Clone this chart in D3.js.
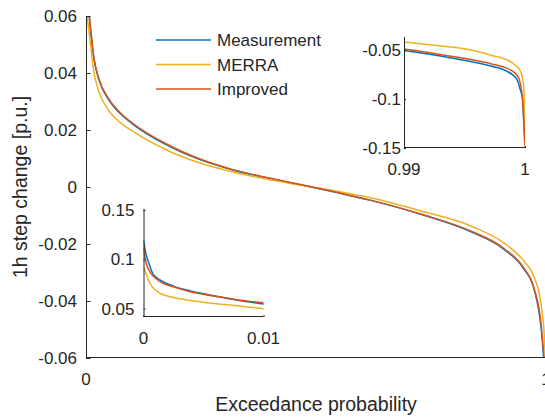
<!DOCTYPE html>
<html>
<head>
<meta charset="utf-8">
<script src="https://cdn.jsdelivr.net/npm/d3@7"></script>
<style>
  html, body { margin: 0; padding: 0; background: #fff; }
  svg { display: block; font-family: "Liberation Sans", Arial, Helvetica, sans-serif; }
</style>
</head>
<body>
<svg id="chart" width="545" height="417"></svg>
<script>
// Exceedance probability grid (denser at both tails)
const prob = [0, 0.0002, 0.0005, 0.0008, 0.0014, 0.0025, 0.0039, 0.0053, 0.0067, 0.0081, 0.01,
  0.017, 0.028, 0.05, 0.076, 0.103, 0.176, 0.248, 0.321, 0.394, 0.466, 0.54, 0.619, 0.728,
  0.837, 0.908, 0.952, 0.974, 0.99, 0.9925, 0.9952, 0.9974, 0.9984, 0.9993, 0.9996, 0.9998, 0.9999, 1];

// 1h step change [p.u.] for each series
const measurement = [0.1195, 0.106, 0.0942, 0.085, 0.0789, 0.0728, 0.068, 0.0644, 0.061, 0.0579, 0.0546,
  0.0452, 0.0377, 0.0305, 0.0255, 0.0219, 0.0147, 0.0096, 0.0059, 0.0032, 0.0008, -0.0018, -0.0047, -0.0096,
  -0.0157, -0.0218, -0.0288, -0.0358, -0.0505, -0.055, -0.061, -0.067, -0.071, -0.0795, -0.09, -0.1005, -0.125, -0.15];
const merra = [0.0924, 0.086, 0.0765, 0.071, 0.0655, 0.0612, 0.0582, 0.056, 0.0541, 0.0525, 0.0498,
  0.0405, 0.0335, 0.0267, 0.0224, 0.0194, 0.0129, 0.0084, 0.0052, 0.0027, 0.0007, -0.0013, -0.0038, -0.0084,
  -0.0137, -0.0196, -0.026, -0.0315, -0.0418, -0.0452, -0.0493, -0.056, -0.0595, -0.0665, -0.071, -0.079, -0.088, -0.15];
const improved = [0.112, 0.097, 0.088, 0.083, 0.0772, 0.0721, 0.067, 0.0637, 0.0613, 0.0586, 0.0559,
  0.0455, 0.038, 0.0308, 0.0258, 0.0222, 0.015, 0.0098, 0.006, 0.0033, 0.0009, -0.0017, -0.0046, -0.0095,
  -0.0155, -0.0215, -0.0285, -0.0355, -0.049, -0.0536, -0.059, -0.0647, -0.068, -0.075, -0.0835, -0.1005, -0.121, -0.147];

const seriesNames = ["Measurement", "MERRA", "Improved"];
const seriesColors = ["#0072BD", "#EDB120", "#D95319"];
const seriesValues = [measurement, merra, improved];

// Tick labels
const mainYTicks = [-0.06, -0.04, -0.02, 0, 0.02, 0.04, 0.06];
const mainXTicks = [0, 1];
const upperYTicks = [-0.15, -0.1, -0.05];
const upperXTicks = [0.99, 1];
const lowerYTicks = [0.05, 0.1, 0.15];
const lowerXTicks = [0, 0.01];

const series = seriesNames.map((name, i) => ({
  name, color: seriesColors[i],
  points: prob.map((p, j) => ({ p, v: seriesValues[i][j] }))
}));

const svg = d3.select("#chart");
const ink = "#262626";
const fmt = d => (d === 0 ? "0" : String(+d.toFixed(4)));

let clipId = 0;
function panel(cfg) {
  const { x0, x1, y0, y1, xDomain, yDomain, xTicks, yTicks, tick, ylabGap, xlabDy, fontSize } = cfg;
  const x = d3.scaleLinear().domain(xDomain).range([x0, x1]);
  const y = d3.scaleLinear().domain(yDomain).range([y0, y1]);
  const g = svg.append("g");
  if (cfg.background) {
    g.append("rect").attr("x", x0).attr("y", y1).attr("width", x1 - x0).attr("height", y0 - y1).attr("fill", "#fff");
  }
  const id = "clip" + (clipId++);
  g.append("clipPath").attr("id", id).append("rect")
    .attr("x", x0).attr("y", y1).attr("width", x1 - x0).attr("height", y0 - y1);

  const line = d3.line().x(d => x(d.p)).y(d => y(d.v)).curve(d3.curveMonotoneX);
  const lines = g.append("g").attr("clip-path", `url(#${id})`);
  series.forEach(s => {
    const inside = p => p >= xDomain[0] && p <= xDomain[1];
    const pts = s.points.filter((d, i, a) =>
      inside(d.p) || (a[i - 1] && inside(a[i - 1].p)) || (a[i + 1] && inside(a[i + 1].p)));
    lines.append("path").datum(pts)
      .attr("fill", "none").attr("stroke", s.color)
      .attr("stroke-width", cfg.lineWidth).attr("stroke-linejoin", "round")
      .attr("d", line);
  });

  // y axis (ticks pointing inward)
  const ya = d3.axisRight(y).tickValues(yTicks).tickSize(tick).tickFormat("");
  g.append("g").attr("transform", `translate(${x0},0)`).call(ya)
    .call(a => a.select(".domain").attr("stroke", ink).attr("d", `M0.5,${y0}V${y1}`))
    .call(a => a.selectAll(".tick line").attr("stroke", ink));
  // x axis (ticks pointing inward)
  const xa = d3.axisTop(x).tickValues(xTicks).tickSize(tick).tickFormat("");
  g.append("g").attr("transform", `translate(0,${y0})`).call(xa)
    .call(a => a.select(".domain").attr("stroke", ink).attr("d", `M${x0},-0.5H${x1}`))
    .call(a => a.selectAll(".tick line").attr("stroke", ink));

  g.append("g").selectAll("text").data(yTicks).join("text")
    .attr("x", x0 - ylabGap).attr("y", d => y(d)).attr("dy", "0.36em")
    .attr("text-anchor", "end").attr("font-size", fontSize).attr("fill", ink)
    .text(fmt);
  g.append("g").selectAll("text").data(xTicks).join("text")
    .attr("x", d => x(d)).attr("y", y0 + xlabDy)
    .attr("text-anchor", "middle").attr("font-size", fontSize).attr("fill", ink)
    .text(fmt);
  return { x, y, g };
}

// Main axes
panel({ x0: 86, x1: 546, y0: 358, y1: 16, xDomain: [0, 1], yDomain: [-0.06, 0.06],
  xTicks: mainXTicks, yTicks: mainYTicks, tick: 4.5, ylabGap: 9, xlabDy: 27, fontSize: 17, lineWidth: 1.5 });

// Axis titles
svg.append("text").attr("x", 316).attr("y", 411).attr("text-anchor", "middle")
  .attr("font-size", 19.5).attr("fill", ink).text("Exceedance probability");
svg.append("text").attr("transform", "translate(27,187) rotate(-90)").attr("text-anchor", "middle")
  .attr("font-size", 19.5).attr("fill", ink).text("1h step change [p.u.]");

// Legend
const legend = svg.append("g");
series.forEach((s, i) => {
  const ly = 40 + i * 24.5;
  legend.append("line").attr("x1", 156).attr("x2", 211).attr("y1", ly).attr("y2", ly)
    .attr("stroke", s.color).attr("stroke-width", 1.5);
  legend.append("text").attr("x", 217).attr("y", ly).attr("dy", "0.36em")
    .attr("font-size", 17).attr("fill", ink).text(s.name);
});

// Inset: upper tail (last 1 %)
panel({ x0: 404, x1: 525, y0: 148, y1: 37, xDomain: [0.99, 1], yDomain: [-0.15, -0.0367],
  xTicks: upperXTicks, yTicks: upperYTicks, tick: 2, ylabGap: 3, xlabDy: 27, fontSize: 17,
  lineWidth: 1.5, background: true });

// Inset: lower tail (first 1 %)
panel({ x0: 143.5, x1: 263.5, y0: 317, y1: 209, xDomain: [0, 0.01], yDomain: [0.0415, 0.151],
  xTicks: lowerXTicks, yTicks: lowerYTicks, tick: 2, ylabGap: 9, xlabDy: 27, fontSize: 17,
  lineWidth: 1.5, background: true });
</script>
</body>
</html>
